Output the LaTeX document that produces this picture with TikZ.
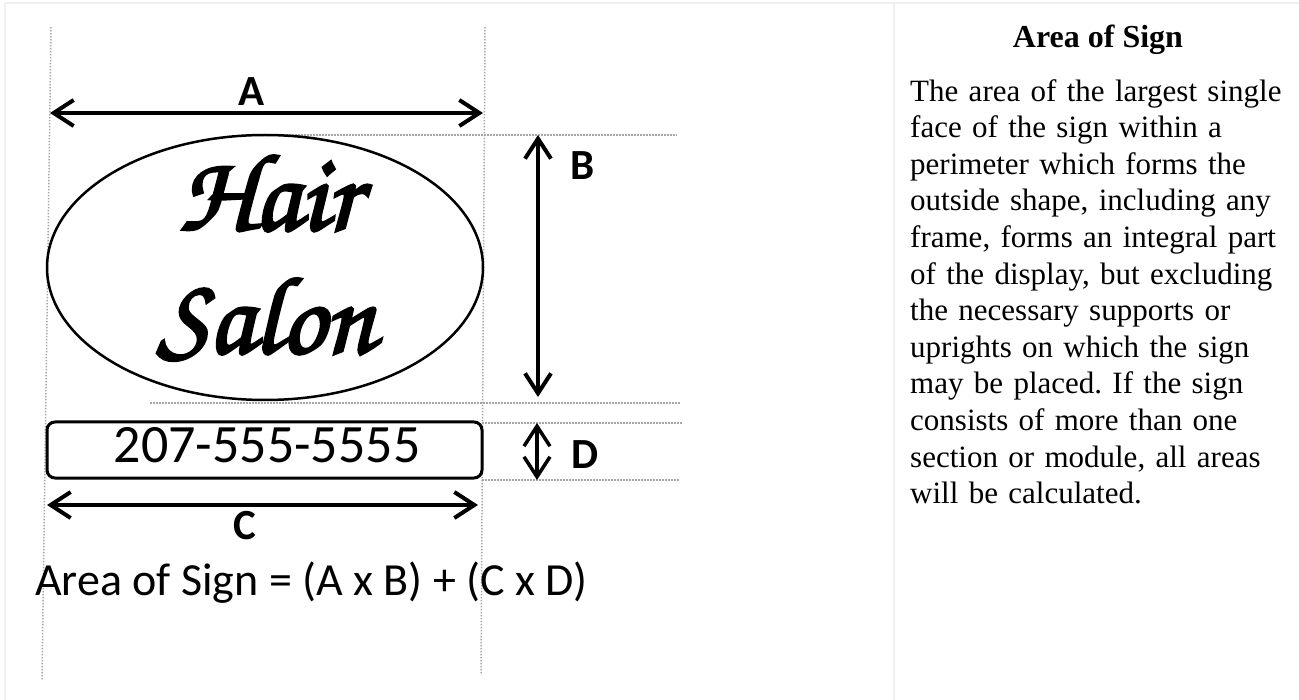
\documentclass[tikz,border=0pt]{standalone}
\usepackage{fontspec}
\setmainfont{Liberation Serif}
\newfontfamily\calibri{Carlito}
\newfontfamily\signfont{TeX Gyre Chorus}[FakeBold=2.5]
\usetikzlibrary{shapes.geometric, arrows.meta, positioning}
\frenchspacing

\begin{document}
\begin{tikzpicture}[
    x=1pt, y=-1pt,
    guide/.style={draw=gray!70, line width=1.5pt, dash pattern=on 1.5pt off 1.5pt},
    dimarrow/.style={{Straight Barb[length=20pt,width=26pt]}-{Straight Barb[length=20pt,width=26pt]}, line width=4pt},
    dimlabel/.style={font=\calibri\bfseries\fontsize{43}{43}\selectfont, anchor=base, inner sep=0pt},
    signtext/.style={font=\signfont\fontsize{110}{110}\selectfont, anchor=base, inner sep=0pt},
    panel/.style={draw=gray!12, line width=2pt}
]
\useasboundingbox (0,0) rectangle (1299,700);

\draw[panel] (5,700) -- (5,3) -- (1299,3);
\draw[panel] (894,3) -- (894,700);

% guide lines
\draw[guide] (51,27) -- (42,680);
\draw[guide] (485,27) -- (481,675);
\draw[guide] (250,135) -- (677,135);
\draw[guide] (150,403) -- (680,403);
\draw[guide] (482,423) -- (683,423);
\draw[guide] (482,480) -- (680,480);

% sign
\node[draw, ellipse, line width=2.5pt, minimum width=436pt, minimum height=265pt, inner sep=0pt] (oval) at (265,267.5) {};
\node[signtext] (hair) at (269,230) {Hair};
\node[signtext] (salon) at (266,353) {Salon};
\node[draw, rounded corners=8pt, line width=3pt, minimum width=435pt, minimum height=56pt, inner sep=0pt] (plate) at (264.5,450) {};
\node[anchor=base, inner sep=0pt, font=\calibri\fontsize{54}{54}\selectfont] (phone) at (267,463) {207-555-5555};

% dimensions
\coordinate (aL) at (50,113);
\coordinate (aR) at (483,113);
\coordinate (bT) at (538,135);
\coordinate (bB) at (538,397);
\coordinate (dT) at (537,423);
\coordinate (dB) at (537,480);
\coordinate (cL) at (47,505);
\coordinate (cR) at (478,505);
\draw[dimarrow] (aL) -- (aR);
\draw[dimarrow] (bT) -- (bB);
\draw[dimarrow, line width=3.5pt] (dT) -- (dB);
\draw[dimarrow] (cL) -- (cR);
\node[dimlabel] (labA) at (252,106) {A};
\node[dimlabel] (labB) at (583,180) {B};
\node[dimlabel] (labC) at (245,539) {C};
\node[dimlabel] (labD) at (585,468) {D};

\node[anchor=base west, inner sep=0pt, font=\calibri\fontsize{46}{46}\selectfont] (formula) at (35,595) {Area of Sign = (A x B) + (C x D)};

% right panel
\node[anchor=base, inner sep=0pt, font=\bfseries\fontsize{32}{32}\selectfont] (title) at (1098,48) {Area of Sign};
\node[anchor=north west, inner sep=0pt, text width=385pt, align=left, font=\fontsize{31}{36.6}\selectfont] (body) at (910,79) {The area of the largest single\\
face of the sign within a\\
perimeter which forms the\\
outside shape, including any\\
frame, forms an integral part\\
of the display, but excluding\\
the necessary supports or\\
uprights on which the sign\\
may be placed. If the sign\\
consists of more than one\\
section or module, all areas\\
will be calculated.};

\end{tikzpicture}
\end{document}
